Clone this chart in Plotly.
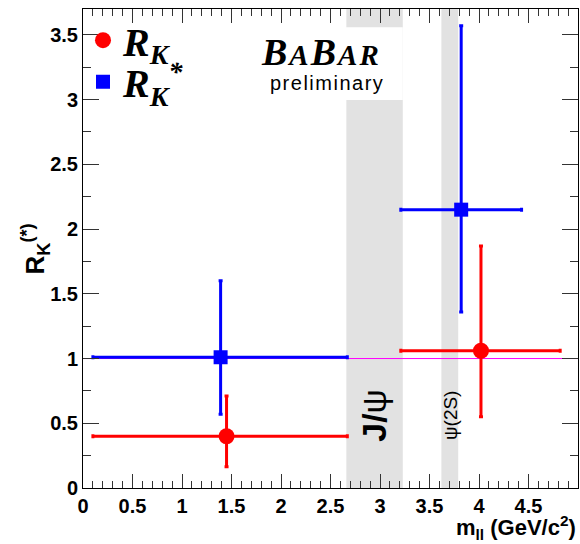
import plotly.graph_objects as go

# ---- data ----
rk_x = [1.45, 4.02]
rk_y = [0.40, 1.06]
rk_x_lo = [0.10, 3.21]
rk_x_hi = [2.67, 4.82]
rk_y_lo = [0.165, 0.55]
rk_y_hi = [0.71, 1.87]

rks_x = [1.39, 3.82]
rks_y = [1.01, 2.15]
rks_x_lo = [0.10, 3.21]
rks_x_hi = [2.67, 4.43]
rks_y_lo = [0.57, 1.36]
rks_y_hi = [1.60, 3.57]

veto_lo = [2.66, 3.62]
veto_hi = [3.23, 3.79]
veto_labels = ["<b>J/</b>ψ", "ψ(2S)"]

x_ticks = [0, 0.5, 1, 1.5, 2, 2.5, 3, 3.5, 4, 4.5, 5]
x_ticklabels = ["0", "0.5", "1", "1.5", "2", "2.5", "3", "3.5", "4", "4.5", "5"]
y_ticks = [0, 0.5, 1, 1.5, 2, 2.5, 3, 3.5]
y_ticklabels = ["0", "0.5", "1", "1.5", "2", "2.5", "3", "3.5"]
ref_value = 1.0

SANS = "Liberation Sans, Arial, sans-serif"
SERIF = "Liberation Serif, Times New Roman, serif"


def errs(c, lo, hi):
    return [h - v for v, h in zip(c, hi)], [v - l for v, l in zip(c, lo)]


fig = go.Figure()

ex_p, ex_m = errs(rk_x, rk_x_lo, rk_x_hi)
ey_p, ey_m = errs(rk_y, rk_y_lo, rk_y_hi)
fig.add_trace(go.Scatter(
    x=rk_x, y=rk_y, mode="markers", name="R<sub>K</sub>",
    marker=dict(color="#ff0000", size=16, symbol="circle"),
    error_x=dict(type="data", symmetric=False, array=ex_p, arrayminus=ex_m,
                 color="#ff0000", thickness=3, width=2),
    error_y=dict(type="data", symmetric=False, array=ey_p, arrayminus=ey_m,
                 color="#ff0000", thickness=3, width=2),
    legend="legend",
))

ex_p, ex_m = errs(rks_x, rks_x_lo, rks_x_hi)
ey_p, ey_m = errs(rks_y, rks_y_lo, rks_y_hi)
fig.add_trace(go.Scatter(
    x=rks_x, y=rks_y, mode="markers", name="R<sub>K</sub><sup>*</sup>",
    marker=dict(color="#0000ff", size=14, symbol="square"),
    error_x=dict(type="data", symmetric=False, array=ex_p, arrayminus=ex_m,
                 color="#0000ff", thickness=3, width=2),
    error_y=dict(type="data", symmetric=False, array=ey_p, arrayminus=ey_m,
                 color="#0000ff", thickness=3, width=2),
    legend="legend2",
))

shapes = []
for lo, hi in zip(veto_lo, veto_hi):
    shapes.append(dict(type="rect", xref="x", yref="paper", x0=lo, x1=hi, y0=0, y1=1,
                       fillcolor="#e2e2e2", line=dict(width=0), layer="below"))
# white box behind the BaBar logo
shapes.append(dict(type="rect", xref="paper", yref="paper", x0=0.34, x1=0.646, y0=0.81, y1=0.962,
                   fillcolor="white", line=dict(width=0), layer="below"))
# reference line at 1
shapes.append(dict(type="line", xref="paper", yref="y", x0=0, x1=1, y0=ref_value, y1=ref_value,
                   line=dict(color="#ff00ff", width=1), layer="below"))

annotations = [
    dict(text="<i><b><span style='letter-spacing:2px'>B<span style='font-size:29px'>A</span>B<span style='font-size:29px'>AR</span></span></b></i>",
         xref="paper", yref="paper", x=0.48, y=0.91, xanchor="center", yanchor="middle",
         showarrow=False, font=dict(family=SERIF, size=38, color="black")),
    dict(text="<span style='letter-spacing:1.5px'>preliminary</span>",
         xref="paper", yref="paper", x=0.492, y=0.846, xanchor="center", yanchor="middle",
         showarrow=False, font=dict(family=SANS, size=20, color="black")),
    dict(text=veto_labels[0], xref="x", yref="paper", x=(veto_lo[0] + veto_hi[0]) / 2, y=0.152,
         xanchor="center", yanchor="middle", textangle=-90, showarrow=False,
         font=dict(family=SANS, size=34, color="black")),
    dict(text=veto_labels[1], xref="x", yref="paper", x=(veto_lo[1] + veto_hi[1]) / 2, y=0.152,
         xanchor="center", yanchor="middle", textangle=-90, showarrow=False,
         font=dict(family=SANS, size=19, color="black")),
    dict(text="<b>m<sub>ll</sub> (GeV/c<sup>2</sup>)</b>", xref="paper", yref="paper",
         x=1.0, y=-0.082, xanchor="right", yanchor="middle", showarrow=False,
         font=dict(family=SANS, size=22, color="black")),
    dict(text="<b>R<sub>K</sub><sup>(*)</sup></b>", xref="paper", yref="paper",
         x=-0.097, y=0.5, xanchor="center", yanchor="middle", textangle=-90, showarrow=False,
         font=dict(family=SANS, size=26, color="black")),
]

axis_common = dict(
    showgrid=False, zeroline=False, showline=True, linecolor="black", linewidth=1,
    mirror="ticks", ticks="inside", tickcolor="#333333",
    tickfont=dict(family=SANS, size=20, color="black", weight="bold"),
)

fig.update_layout(
    width=580, height=544,
    margin=dict(l=83, r=2, t=9, b=56),
    paper_bgcolor="white", plot_bgcolor="white",
    shapes=shapes, annotations=annotations,
    xaxis=dict(range=[0, 5], tickmode="array", tickvals=x_ticks, ticktext=x_ticklabels,
               ticklen=14, minor=dict(dtick=0.1, ticklen=7, ticks="inside", tickcolor="#333333"),
               **axis_common),
    yaxis=dict(range=[0, 3.7], tickmode="array", tickvals=y_ticks, ticktext=y_ticklabels,
               ticklen=16, minor=dict(dtick=0.25, ticklen=8, ticks="inside", tickcolor="#333333"),
               **axis_common),
    showlegend=True,
    legend=dict(x=0.0, y=0.935, xanchor="left", yanchor="middle", bgcolor="rgba(0,0,0,0)",
                font=dict(family=SERIF, size=40, color="black", style="italic", weight="bold")),
    legend2=dict(x=0.0, y=0.848, xanchor="left", yanchor="middle", bgcolor="rgba(0,0,0,0)",
                 font=dict(family=SERIF, size=40, color="black", style="italic", weight="bold")),
)

fig.write_html("out.html")
